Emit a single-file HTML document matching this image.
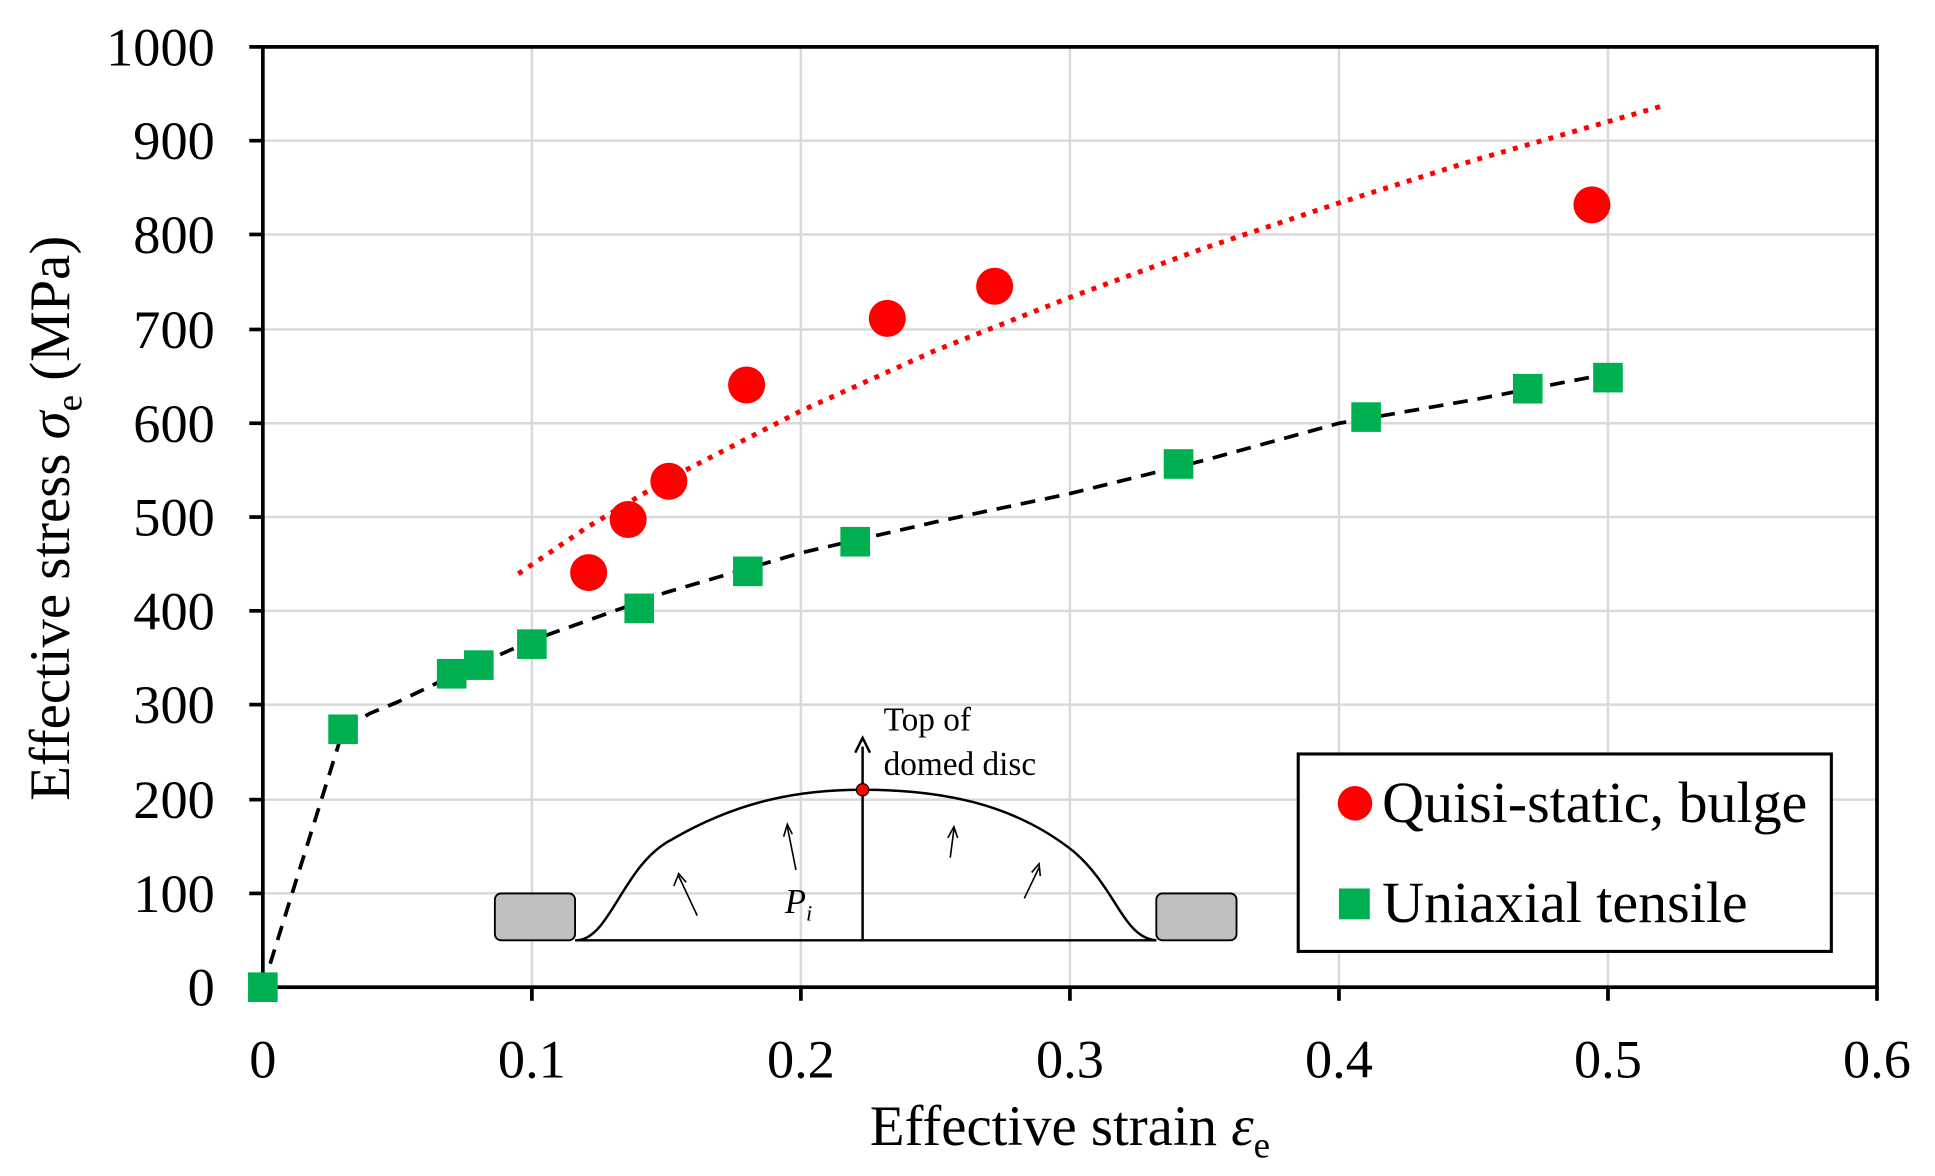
<!DOCTYPE html>
<html><head><meta charset="utf-8"><style>html,body{margin:0;padding:0;background:#fff}svg{display:block}</style></head><body>
<svg width="1935" height="1176" viewBox="0 0 1568 953" preserveAspectRatio="none" xmlns="http://www.w3.org/2000/svg" font-family="'Liberation Serif', serif">
<g stroke="#d9d9d9" stroke-width="2">
<line x1="431" y1="38" x2="431" y2="800"/><line x1="649" y1="38" x2="649" y2="800"/><line x1="867" y1="38" x2="867" y2="800"/><line x1="1085" y1="38" x2="1085" y2="800"/><line x1="1303" y1="38" x2="1303" y2="800"/>
<line x1="213" y1="114" x2="1521" y2="114"/><line x1="213" y1="190" x2="1521" y2="190"/><line x1="213" y1="267" x2="1521" y2="267"/><line x1="213" y1="343" x2="1521" y2="343"/><line x1="213" y1="419" x2="1521" y2="419"/><line x1="213" y1="495" x2="1521" y2="495"/><line x1="213" y1="571" x2="1521" y2="571"/><line x1="213" y1="648" x2="1521" y2="648"/><line x1="213" y1="724" x2="1521" y2="724"/>
</g>
<rect x="213" y="38" width="1308" height="762" fill="none" stroke="#000" stroke-width="3"/>
<g stroke="#000" stroke-width="3">
<line x1="202" y1="38" x2="213" y2="38"/><line x1="202" y1="114" x2="213" y2="114"/><line x1="202" y1="190" x2="213" y2="190"/><line x1="202" y1="267" x2="213" y2="267"/><line x1="202" y1="343" x2="213" y2="343"/><line x1="202" y1="419" x2="213" y2="419"/><line x1="202" y1="495" x2="213" y2="495"/><line x1="202" y1="571" x2="213" y2="571"/><line x1="202" y1="648" x2="213" y2="648"/><line x1="202" y1="724" x2="213" y2="724"/><line x1="202" y1="800" x2="213" y2="800"/>
<line x1="213" y1="800" x2="213" y2="811"/><line x1="431" y1="800" x2="431" y2="811"/><line x1="649" y1="800" x2="649" y2="811"/><line x1="867" y1="800" x2="867" y2="811"/><line x1="1085" y1="800" x2="1085" y2="811"/><line x1="1303" y1="800" x2="1303" y2="811"/><line x1="1521" y1="800" x2="1521" y2="811"/>
</g>
<g font-size="44" text-anchor="end" fill="#000">
<text x="174" y="53">1000</text><text x="174" y="129">900</text><text x="174" y="205">800</text><text x="174" y="282">700</text><text x="174" y="358">600</text><text x="174" y="434">500</text><text x="174" y="510">400</text><text x="174" y="586">300</text><text x="174" y="663">200</text><text x="174" y="739">100</text><text x="174" y="815">0</text>
</g>
<g font-size="44" text-anchor="middle">
<text x="213" y="873">0</text><text x="431" y="873">0.1</text><text x="649" y="873">0.2</text><text x="867" y="873">0.3</text><text x="1085" y="873">0.4</text><text x="1303" y="873">0.5</text><text x="1521" y="873">0.6</text>
</g>
<text x="867" y="928" font-size="46" text-anchor="middle">Effective strain <tspan font-style="italic">ε</tspan><tspan font-size="30" dy="10">e</tspan></text>
<text transform="translate(56,420) rotate(-90)" font-size="46" text-anchor="middle">Effective stress <tspan font-style="italic">σ</tspan><tspan font-size="30" dy="10">e</tspan><tspan dy="-10"> (MPa)</tspan></text>
<path d="M213,800 L278.4,590.5 L300,578 L322,569 L365.6,548 L431,519 L540,480 L649,448 L758,423 L867,400 L976,373 L1085,343 L1194,324 L1303,303" fill="none" stroke="#000" stroke-width="3" stroke-dasharray="12,8"/>
<path d="M420,465 L474.6,428 L540,389 L649,333 L758,284 L867,241 L976,201 L1085,164.5 L1194,130 L1346.6,86" fill="none" stroke="#ff0000" stroke-width="4" stroke-dasharray="4,6"/>
<g fill="#ff0000">
<circle cx="477" cy="464" r="15"/><circle cx="509" cy="421" r="15"/><circle cx="542" cy="390" r="15"/><circle cx="605" cy="312" r="15"/><circle cx="719" cy="258" r="15"/><circle cx="806" cy="232" r="15"/><circle cx="1290" cy="166" r="15"/>
</g>
<g fill="#00b050">
<rect x="201" y="788" width="24" height="24"/><rect x="266" y="579" width="24" height="24"/><rect x="354" y="534" width="24" height="24"/><rect x="376" y="527" width="24" height="24"/><rect x="419" y="510" width="24" height="24"/><rect x="506" y="481" width="24" height="24"/><rect x="594" y="451" width="24" height="24"/><rect x="681" y="427" width="24" height="24"/><rect x="943" y="364" width="24" height="24"/><rect x="1095" y="326" width="24" height="24"/><rect x="1226" y="303" width="24" height="24"/><rect x="1291" y="294" width="24" height="24"/>
</g>
<rect x="401" y="724" width="65" height="38" rx="5" fill="#c0c0c0" stroke="#000" stroke-width="1.5"/>
<rect x="937" y="724" width="65" height="38" rx="5" fill="#c0c0c0" stroke="#000" stroke-width="1.5"/>
<line x1="466" y1="762" x2="937" y2="762" stroke="#000" stroke-width="2"/>
<path d="M468,762 C495,760 505,700 545,680 C600,648 650,640 699,640 C760,640 820,650 870,690 C905,720 910,760 937,762" fill="none" stroke="#000" stroke-width="2"/>
<line x1="699" y1="762" x2="699" y2="605" stroke="#000" stroke-width="2"/>
<path d="M693,610 L699,598 L705,610" fill="none" stroke="#000" stroke-width="2"/>
<circle cx="699" cy="640" r="5" fill="#ff0000" stroke="#000" stroke-width="1"/>
<text x="716" y="592" font-size="27">Top of</text><text x="716" y="628" font-size="27">domed disc</text>
<g stroke="#000" stroke-width="1.3" fill="none">
<path d="M565,742 L550,710 M546,718 L550,708 L556,715"/><path d="M645,705 L638,670 M635,678 L638,668 L642,676"/><path d="M770,695 L773,672 M768,679 L773,670 L776,679"/><path d="M830,728 L842,703 M836,707 L842,700 L843,710"/>
</g>
<text x="636" y="740" font-size="28" font-style="italic">P<tspan font-size="18" dy="6">i</tspan></text>
<rect x="1052" y="611" width="432" height="160" fill="#fff" stroke="#000" stroke-width="2.5"/>
<circle cx="1098" cy="651" r="14" fill="#ff0000"/>
<text x="1120" y="666" font-size="47">Quisi-static, bulge</text>
<rect x="1085" y="720" width="25" height="25" fill="#00b050"/>
<text x="1120" y="747" font-size="47">Uniaxial tensile</text>
</svg>
</body></html>
